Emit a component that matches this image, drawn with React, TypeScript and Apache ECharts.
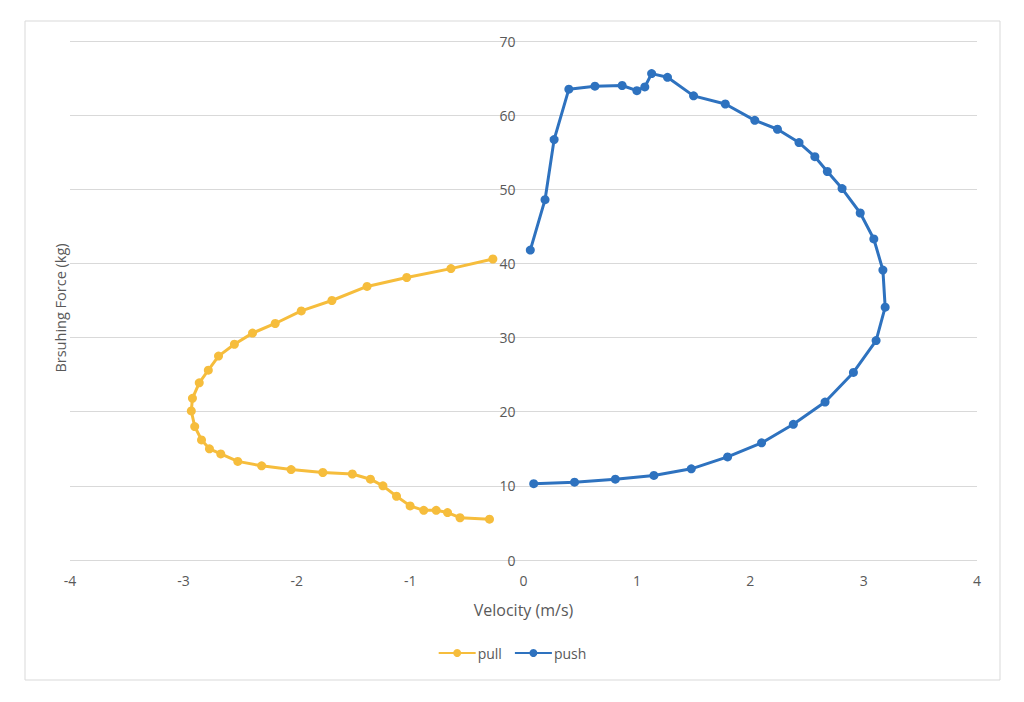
import React, { useEffect, useRef } from "react";
import * as echarts from "echarts";

const pullVelocity = [-0.27, -0.64, -1.03, -1.38, -1.69, -1.96, -2.19, -2.39, -2.55, -2.69, -2.78, -2.86, -2.92, -2.93, -2.9, -2.84, -2.77, -2.67, -2.52, -2.31, -2.05, -1.77, -1.51, -1.35, -1.24, -1.12, -1.0, -0.88, -0.77, -0.67, -0.56, -0.3];
const pullForce = [40.6, 39.3, 38.1, 36.9, 35.0, 33.6, 31.9, 30.6, 29.1, 27.5, 25.6, 23.9, 21.8, 20.1, 18.0, 16.2, 15.0, 14.3, 13.3, 12.7, 12.2, 11.8, 11.6, 10.9, 10.0, 8.6, 7.3, 6.7, 6.7, 6.4, 5.7, 5.5];

const pushVelocity = [0.06, 0.19, 0.27, 0.4, 0.63, 0.87, 1.0, 1.07, 1.13, 1.27, 1.5, 1.78, 2.04, 2.24, 2.43, 2.57, 2.68, 2.81, 2.97, 3.09, 3.17, 3.19, 3.11, 2.91, 2.66, 2.38, 2.1, 1.8, 1.48, 1.15, 0.81, 0.45, 0.09];
const pushForce = [41.8, 48.6, 56.7, 63.5, 63.9, 64.0, 63.3, 63.8, 65.6, 65.1, 62.6, 61.5, 59.3, 58.1, 56.3, 54.4, 52.4, 50.1, 46.8, 43.3, 39.1, 34.1, 29.6, 25.3, 21.3, 18.3, 15.8, 13.9, 12.3, 11.4, 10.9, 10.5, 10.3];

const seriesNames = ["pull", "push"];
const xTitle = "Velocity (m/s)";
const yTitle = "Brsuhing Force (kg)";

const zip = (xs: number[], ys: number[]) => xs.map((x, i) => [x, ys[i]]);

const GRID_LEFT = 70;
const GRID_RIGHT = 47;
const X_MIN = -4;
const X_MAX = 4;

export default function App() {
  const ref = useRef<HTMLDivElement>(null);
  useEffect(() => {
    if (!ref.current) return;
    const chart = echarts.init(ref.current, undefined, { renderer: "svg" });
    const font = "'Open Sans', 'Noto Sans', sans-serif";
    const textColor = "#595959";
    const plotWidth = 1024 - GRID_LEFT - GRID_RIGHT;
    // y axis crosses at velocity 0 (Excel style): shift it by the x-scale position of 0
    const yAxisOffset = -((0 - X_MIN) / (X_MAX - X_MIN)) * plotWidth;
    chart.setOption({
      animation: false,
      textStyle: { fontFamily: font },
      grid: { left: GRID_LEFT, right: GRID_RIGHT, top: 41, bottom: 142, containLabel: false },
      graphic: [
        {
          type: "rect",
          shape: { x: 25, y: 21, width: 975, height: 659 },
          style: { fill: "none", stroke: "#d9d9d9", lineWidth: 1 },
          silent: true,
        },
        {
          type: "text",
          x: 60,
          y: 308,
          rotation: Math.PI / 2,
          style: {
            text: yTitle,
            fill: textColor,
            font: `14.5px ${font}`,
            align: "center",
            verticalAlign: "middle",
          },
        },
      ],
      legend: {
        bottom: 37,
        left: "center",
        itemWidth: 37,
        itemHeight: 10,
        itemGap: 12,
        textStyle: { color: textColor, fontSize: 14, fontFamily: font, padding: [0, 0, 0, -3] },
        data: seriesNames,
      },
      xAxis: {
        type: "value",
        min: X_MIN,
        max: X_MAX,
        interval: 1,
        name: xTitle,
        nameLocation: "middle",
        nameGap: 42,
        nameTextStyle: { color: textColor, fontSize: 16, fontFamily: font },
        axisLine: { show: false, onZero: false },
        axisTick: { show: false },
        splitLine: { show: false },
        axisLabel: { color: textColor, fontSize: 14, margin: 13, fontFamily: font },
      },
      yAxis: {
        type: "value",
        min: 0,
        max: 70,
        interval: 10,
        position: "left",
        offset: yAxisOffset,
        axisLine: { show: false, onZero: false },
        axisTick: { show: false },
        splitLine: { show: true, lineStyle: { color: "#d9d9d9", width: 1 } },
        axisLabel: { color: textColor, fontSize: 14, margin: 8, fontFamily: font },
      },
      series: [
        {
          name: seriesNames[0],
          type: "line",
          data: zip(pullVelocity, pullForce),
          color: "#f6bd3c",
          symbol: "circle",
          symbolSize: 9,
          lineStyle: { width: 3 },
        },
        {
          name: seriesNames[1],
          type: "line",
          data: zip(pushVelocity, pushForce),
          color: "#2e72bf",
          symbol: "circle",
          symbolSize: 9,
          lineStyle: { width: 3 },
        },
      ],
    });
    return () => chart.dispose();
  }, []);
  return (
    <div
      ref={ref}
      style={{ position: "fixed", left: 0, top: 0, width: 1024, height: 702, background: "#fff" }}
    />
  );
}
